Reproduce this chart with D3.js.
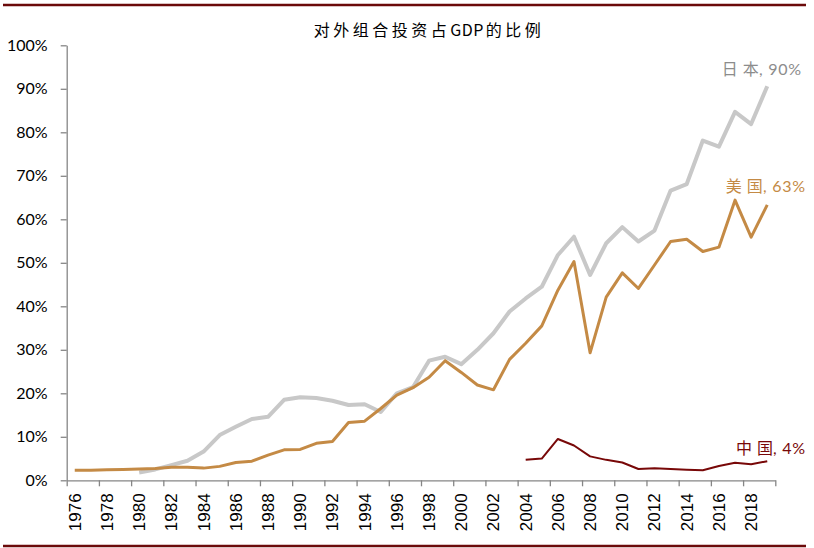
<!DOCTYPE html>
<html>
<head>
<meta charset="utf-8">
<script src="https://cdn.jsdelivr.net/npm/d3@7"></script>
<style>
  body { margin: 0; background: #fff; }
  .axis path, .axis line { stroke: #868686; stroke-width: 1.3; }
  .axis--y text { font-family: Lato, "Open Sans", sans-serif; font-size: 16px; fill: #000; }
  .axis--x text { font-family: "Liberation Sans", Arial, sans-serif; font-size: 17px; fill: #000; }
  .title { font-family: "Noto Sans CJK SC", sans-serif; font-size: 16px; fill: #000; }
  .label { font-family: "Noto Sans CJK SC", sans-serif; font-size: 16px; }
  .num { font-family: Lato, "Open Sans", sans-serif; }
</style>
</head>
<body>
<svg width="814" height="548"></svg>
<script>
var years = d3.range(1976, 2020);
var tickYears = d3.range(1976, 2019, 2);

var usa = [2.3, 2.3, 2.4, 2.5, 2.6, 2.7, 3.0, 3.0, 2.8, 3.2,
           4.1, 4.4, 5.8, 7.0, 7.1, 8.5, 8.9, 13.3, 13.6, 16.5,
           19.6, 21.3, 23.7, 27.5, 24.8, 21.9, 20.8, 27.8, 31.5, 35.5,
           43.7, 50.3, 29.3, 42.1, 47.7, 44.1, 49.5, 54.9, 55.4, 52.6,
           53.6, 64.4, 55.9, 63.3];

var japan = [null, null, null, null, 1.8, 2.5, 3.5, 4.5, 6.6, 10.4,
             12.3, 14.1, 14.6, 18.5, 19.1, 18.9, 18.3, 17.3, 17.5, 15.7,
             20.0, 21.4, 27.5, 28.4, 26.7, 30.0, 33.8, 38.8, 41.8, 44.5,
             51.8, 56.0, 47.2, 54.5, 58.2, 54.9, 57.4, 66.6, 68.1, 78.1,
             76.7, 84.7, 81.9, 90.6];

var china = [null, null, null, null, null, null, null, null, null, null,
             null, null, null, null, null, null, null, null, null, null,
             null, null, null, null, null, null, null, null, 4.7, 5.0,
             9.5, 8.0, 5.5, 4.7, 4.1, 2.6, 2.75, 2.6, 2.45, 2.3,
             3.3, 4.05, 3.7, 4.4];

var series = [
  {name: "日本", values: japan, color: "#c8c8c8", width: 4, text: "#8c8c8c", num: ", 90%", lx: 802, ly: 75},
  {name: "美国", values: usa, color: "#c48a45", width: 3, text: "#c48a45", num: ", 63%", lx: 806, ly: 192},
  {name: "中国", values: china, color: "#780808", width: 2, text: "#780808", num: ", 4%", lx: 806, ly: 454}
];

var svg = d3.select("svg"),
    margin = {top: 45.3, left: 66.7, right: 814 - 775.3, bottom: 548 - 480.3},
    width = 814 - margin.left - margin.right,
    height = 548 - margin.top - margin.bottom,
    g = svg.append("g").attr("transform", "translate(" + margin.left + "," + margin.top + ")");

var x = d3.scaleBand().domain(years).range([0, width]).padding(0);
var xEdge = d3.scaleLinear().domain([1976, 2020]).range([0, width]);
var y = d3.scaleLinear().domain([0, 100]).range([height, 0]);

// top and bottom border rules
svg.append("line").attr("x1", 3).attr("x2", 806).attr("y1", 5).attr("y2", 5)
    .attr("stroke", "#6b0a0a").attr("stroke-width", 2.5);
svg.append("line").attr("x1", 3).attr("x2", 806).attr("y1", 546).attr("y2", 546)
    .attr("stroke", "#6b0a0a").attr("stroke-width", 2.5);

var title = svg.append("text")
    .attr("class", "title")
    .attr("x", 429)
    .attr("y", 36)
    .attr("text-anchor", "middle");
title.append("tspan").style("letter-spacing", "3.5px").text("对外组合投资占");
title.append("tspan").style("letter-spacing", "0.5px").text("GDP");
title.append("tspan").attr("dx", 2).style("letter-spacing", "3.5px").text("的比例");

g.append("g")
    .attr("class", "axis axis--y")
    .call(d3.axisLeft(y).tickValues(d3.range(0, 101, 10)).tickSize(6).tickSizeOuter(0)
      .tickFormat(function(d) { return d + "%"; }))
    .call(function(a) { a.selectAll("text").attr("x", -19); });

// tick marks at category boundaries
g.append("g")
    .attr("class", "axis axis--x")
    .attr("transform", "translate(0," + height + ")")
    .call(d3.axisBottom(xEdge).tickValues(d3.range(1976, 2021, 2)).tickSize(6).tickSizeOuter(0)
      .tickFormat(""));

// labels at category centres
var xl = g.append("g")
    .attr("class", "axis axis--x")
    .attr("transform", "translate(0," + height + ")")
    .call(d3.axisBottom(x).tickValues(tickYears).tickSize(0));
xl.select(".domain").remove();
xl.selectAll("text")
    .attr("transform", "rotate(-90)")
    .attr("x", -13)
    .attr("y", 0)
    .attr("dy", "0.35em")
    .style("text-anchor", "end");

series.forEach(function(s) {
  var line = d3.line()
      .defined(function(d) { return d != null; })
      .x(function(d, i) { return x(years[i]) + x.bandwidth() / 2; })
      .y(function(d) { return y(d); });

  g.append("path")
      .datum(s.values)
      .attr("fill", "none")
      .attr("stroke", s.color)
      .attr("stroke-width", s.width)
      .attr("stroke-linejoin", "round")
      .attr("d", line);

  var t = svg.append("text")
      .attr("class", "label")
      .attr("x", s.lx)
      .attr("y", s.ly)
      .attr("text-anchor", "end")
      .attr("fill", s.text);
  t.append("tspan").attr("dx", "0 5").text(s.name);
  t.append("tspan").attr("class", "num").style("letter-spacing", "0.8px").text(s.num);
});
</script>
</body>
</html>
